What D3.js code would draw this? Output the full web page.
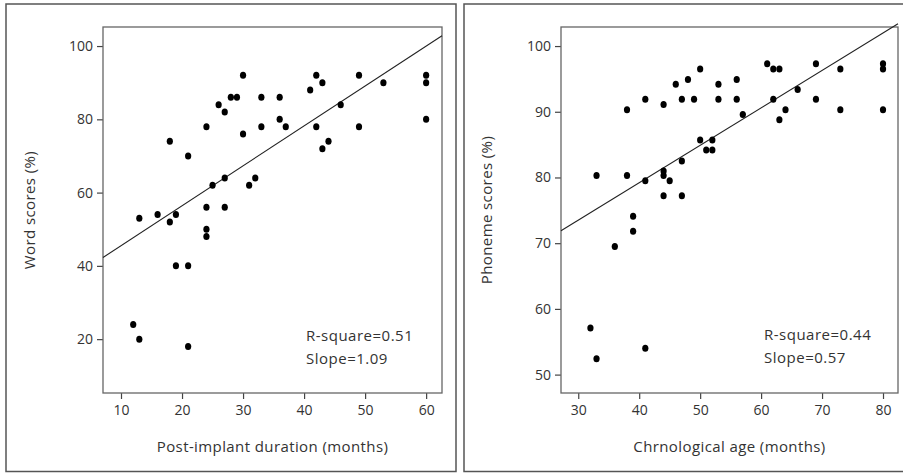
<!DOCTYPE html>
<html>
<head>
<meta charset="utf-8">
<title>Word and phoneme scores</title>
<script src="https://cdn.jsdelivr.net/npm/d3@7"></script>
<style>
  body { margin: 0; background: #fff; }
  svg text { font-family: "Open Sans", Lato, sans-serif; fill: #333; }
</style>
</head>
<body>
<script>
// left panel: post-implant duration vs word scores
var wordDuration = [12,13,13,16,18,18,19,19,21,21,21,24,24,24,24,25,26,27,27,27,28,29,30,30,31,32,33,33,36,36,37,41,42,42,43,43,44,46,49,49,53,60,60,60];
var wordScores   = [24,20,53,54,52,74,54,40,70,40,18,78,56,50,48,62,84,82,64,56,86,86,92,76,62,64,86,78,86,80,78,88,92,78,90,72,74,84,92,78,90,92,90,80];
var wordTicksX = [10,20,30,40,50,60];
var wordTicksY = [20,40,60,80,100];

// right panel: chronological age vs phoneme scores
var phonAge    = [32,33,33,36,38,38,39,39,41,41,41,44,44,44,44,45,46,47,47,47,48,49,50,50,51,52,52,53,53,56,56,57,61,62,62,63,63,64,66,69,69,73,73,80,80,80];
var phonScores = [57.1,52.4,80.3,69.5,90.3,80.3,74.1,71.8,91.9,79.5,54.0,91.1,81.0,80.3,77.2,79.5,94.2,91.9,82.5,77.2,94.9,91.9,96.5,85.7,84.2,85.7,84.2,94.2,91.9,94.9,91.9,89.6,97.3,96.5,91.9,96.5,88.8,90.3,93.4,97.3,91.9,96.5,90.3,97.3,96.5,90.3];
var phonTicksX = [30,40,50,60,70,80];
var phonTicksY = [50,60,70,80,90,100];

var w = 903, h = 473;
var svg = d3.select("body").append("svg").attr("width", w).attr("height", h);

function panel(o) {
  // outer frame
  svg.append("rect")
    .attr("x", o.frame[0]).attr("y", o.frame[1])
    .attr("width", o.frame[2]).attr("height", o.frame[3])
    .attr("fill", "none").attr("stroke", "#555").attr("stroke-width", 1.5);

  var x = d3.scaleLinear().domain(o.xDom).range([o.left, o.right]);
  var y = d3.scaleLinear().domain(o.yDom).range([o.bottom, o.top]);
  var g = svg.append("g");

  g.append("g").attr("transform", "translate(0," + o.bottom + ")")
    .call(d3.axisBottom(x).tickValues(o.ticksX).tickSize(6).tickPadding(6))
    .call(s => s.select(".domain").remove());
  g.append("g").attr("transform", "translate(" + o.left + ",0)")
    .call(d3.axisLeft(y).tickValues(o.ticksY).tickSize(6).tickPadding(4))
    .call(s => s.select(".domain").remove());
  g.selectAll(".tick line").attr("stroke", "#444").attr("stroke-width", 1.2);
  g.selectAll(".tick text").attr("font-size", "14px").attr("fill", "#333")
    .style("font-family", "'Open Sans', sans-serif");

  // plot box
  g.append("rect")
    .attr("x", o.left).attr("y", o.top)
    .attr("width", o.right - o.left).attr("height", o.bottom - o.top)
    .attr("fill", "none").attr("stroke", "#666").attr("stroke-width", 1.3);

  // fitted line
  var x0 = o.xDom[0], x1 = o.xDom[1];
  g.append("line")
    .attr("x1", x(x0)).attr("y1", y(o.icpt + o.slope * x0))
    .attr("x2", x(x1)).attr("y2", y(o.icpt + o.slope * x1))
    .attr("stroke", "#222").attr("stroke-width", 1.1);

  g.selectAll("ellipse").data(o.xs).enter().append("ellipse")
    .attr("cx", function(d) { return x(d); })
    .attr("cy", function(d, i) { return y(o.ys[i]); })
    .attr("rx", 3.1).attr("ry", 3.5)
    .attr("fill", "#000");

  g.append("text").text(o.r2)
    .attr("x", o.noteX).attr("y", o.noteY).attr("font-size", "15px")
    .attr("letter-spacing", "0.5px");
  g.append("text").text(o.slopeTxt)
    .attr("x", o.noteX).attr("y", o.noteY + 23).attr("font-size", "15px")
    .attr("letter-spacing", "0.5px");

  g.append("text").text(o.xTitle)
    .attr("x", (o.left + o.right) / 2).attr("y", 452)
    .attr("text-anchor", "middle").attr("font-size", "15px")
    .attr("letter-spacing", "0.4px");
  g.append("text").text(o.yTitle)
    .attr("transform", "translate(" + o.yTitleX + "," + ((o.top + o.bottom) / 2) + ") rotate(-90)")
    .attr("text-anchor", "middle").attr("font-size", "15px")
    .attr("letter-spacing", "0.4px");
}

panel({
  frame: [6, 4, 450, 467.5],
  left: 103, right: 442, top: 27, bottom: 393,
  xDom: [7.05, 62.6], yDom: [5.3, 105.2],
  ticksX: wordTicksX, ticksY: wordTicksY,
  xs: wordDuration, ys: wordScores,
  icpt: 34.6, slope: 1.09,
  r2: "R-square=0.51", slopeTxt: "Slope=1.09", noteX: 306, noteY: 341,
  xTitle: "Post-implant duration (months)", yTitle: "Word scores (%)", yTitleX: 35
});

panel({
  frame: [464, 4, 445, 467.5],
  left: 561, right: 898, top: 27, bottom: 393,
  xDom: [27.17, 82.46], yDom: [47.2, 102.9],
  ticksX: phonTicksX, ticksY: phonTicksY,
  xs: phonAge, ys: phonScores,
  icpt: 56.4, slope: 0.57,
  r2: "R-square=0.44", slopeTxt: "Slope=0.57", noteX: 764, noteY: 340,
  xTitle: "Chrnological age (months)", yTitle: "Phoneme scores (%)", yTitleX: 492
});
</script>
</body>
</html>
